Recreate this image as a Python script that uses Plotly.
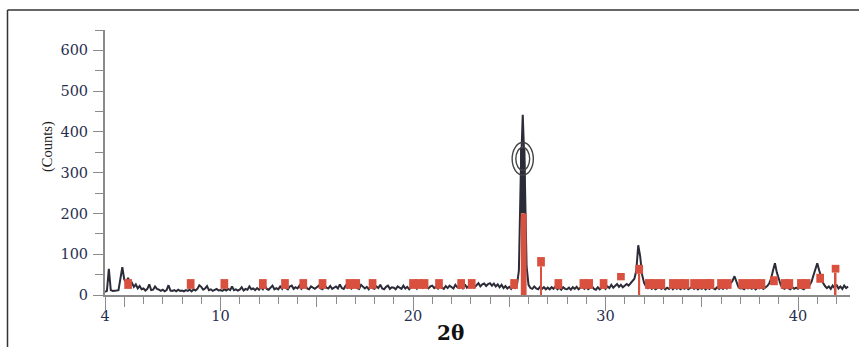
import numpy as np
import plotly.graph_objects as go

# ---- data -------------------------------------------------------------
two_theta_start = 4.0
two_theta_step = 0.1
# measured counts, one row per degree (4.0..4.9, 5.0..5.9, ...)
counts_rows = [
    [8, 10, 64, 12, 10, 10, 11, 12, 42, 68],        # 4
    [38, 30, 42, 26, 30, 20, 26, 16, 22, 14],       # 5
    [16, 11, 15, 26, 12, 13, 21, 15, 13, 10],       # 6
    [13, 9, 12, 24, 11, 10, 12, 9, 13, 10],         # 7
    [11, 9, 12, 10, 13, 9, 14, 11, 15, 24],         # 8
    [20, 13, 16, 22, 12, 14, 10, 13, 15, 11],       # 9
    [12, 10, 14, 11, 15, 12, 21, 12, 14, 11],       # 10
    [13, 19, 11, 15, 13, 21, 14, 16, 12, 17],       # 11
    [13, 19, 14, 23, 15, 13, 19, 23, 14, 17],       # 12
    [14, 21, 15, 25, 17, 14, 21, 23, 15, 19],       # 13
    [16, 23, 15, 20, 25, 16, 14, 21, 17, 15],       # 14
    [19, 23, 16, 14, 25, 18, 16, 22, 15, 19],       # 15
    [21, 16, 26, 17, 15, 23, 18, 25, 16, 21],       # 16
    [23, 17, 15, 25, 19, 16, 20, 14, 22, 17],       # 17
    [15, 21, 17, 25, 16, 14, 20, 23, 15, 19],       # 18
    [18, 14, 21, 17, 15, 23, 16, 20, 14, 19],       # 19
    [20, 23, 16, 25, 19, 17, 27, 20, 16, 21],       # 20
    [23, 17, 21, 16, 25, 18, 15, 22, 17, 23],       # 21
    [20, 16, 25, 19, 17, 23, 15, 26, 18, 22],       # 22
    [23, 27, 19, 25, 29, 21, 26, 28, 22, 27],       # 23
    [29, 23, 28, 21, 26, 19, 25, 17, 22, 16],       # 24
    [20, 15, 21, 17, 24, 60, 300, 442, 310, 70],    # 25
    [25, 17, 15, 21, 16, 14, 20, 15, 19, 14],       # 26
    [18, 14, 19, 15, 21, 14, 18, 13, 19, 15],       # 27
    [14, 18, 13, 19, 15, 20, 14, 18, 21, 15],       # 28
    [19, 14, 18, 21, 15, 13, 19, 14, 18, 20],       # 29
    [15, 21, 17, 25, 18, 23, 27, 20, 25, 19],       # 30
    [23, 27, 23, 29, 33, 40, 60, 122, 95, 50],      # 31
    [30, 21, 17, 21, 15, 19, 14, 18, 20, 15],       # 32
    [19, 14, 18, 15, 20, 14, 19, 15, 18, 14],       # 33
    [18, 15, 19, 14, 18, 20, 15, 19, 14, 18],       # 34
    [15, 19, 14, 18, 15, 20, 16, 14, 19, 15],       # 35
    [19, 15, 20, 16, 22, 28, 35, 46, 32, 20],       # 36
    [16, 17, 14, 19, 16, 18, 15, 19, 14, 18],       # 37
    [16, 19, 15, 18, 22, 28, 40, 60, 78, 55],       # 38
    [40, 25, 17, 15, 19, 16, 14, 19, 15, 18],       # 39
    [15, 19, 16, 14, 19, 20, 24, 32, 48, 66],       # 40
    [78, 60, 45, 30, 22, 17, 21, 15, 23, 17],       # 41
    [25, 16, 21, 15, 23, 17, 21],                   # 42
]
# dense core of the main reflection (overlapping scans)
core_pos = [25.7]
core_low = [200]
core_high = [362]

# reference-pattern markers (red): position, lower and upper count
ref_pos = [5.2, 8.45, 10.2, 12.2, 13.35, 14.3, 15.3, 16.7, 17.05, 17.9,
           20.0, 20.3, 20.6, 21.35, 22.5, 23.05, 25.25, 26.65, 27.55, 28.85,
           29.15, 29.9, 30.8, 31.75, 32.25, 32.55, 32.9, 33.5, 33.85, 34.15,
           34.6, 34.95, 35.3, 35.45, 36.0, 36.35, 37.1, 37.45, 37.8, 38.1,
           38.75, 39.3, 39.55, 40.15, 40.45, 41.15, 41.95]
ref_low = [15, 15, 15, 15, 15, 15, 15, 15, 15, 15,
           15, 15, 15, 15, 15, 15, 15, 70, 15, 15,
           15, 15, 36, 52, 15, 15, 15, 15, 15, 15,
           15, 15, 15, 15, 15, 15, 15, 15, 15, 15,
           24, 15, 15, 15, 15, 30, 55]
ref_high = [39, 39, 39, 39, 39, 39, 39, 39, 39, 39,
            39, 39, 39, 39, 39, 39, 39, 93, 39, 39,
            39, 39, 54, 74, 39, 39, 39, 39, 39, 39,
            39, 39, 39, 39, 39, 39, 39, 39, 39, 39,
            46, 39, 39, 39, 39, 52, 74]
# reference sticks (red lines down to the baseline)
stick_pos = [25.75, 26.65, 31.75, 41.95]
stick_high = [200, 70, 52, 55]

# highlighted peak (ellipse) centre and half sizes
mark_center = [25.7, 334]
mark_half_outer = [0.55, 40]
mark_half_inner = [0.36, 28]

x_ticks = [4, 10, 20, 30, 40]
half_ticks = [5, 15, 25, 35]
y_ticks = [0, 100, 200, 300, 400, 500, 600]

# ---- build ------------------------------------------------------------
counts = [v for row in counts_rows for v in row]
two_theta = two_theta_start + two_theta_step * np.arange(len(counts))

RED = "#d9503f"
DARK = "#2b2c38"
GREY = "#8a8a8a"
TICKFONT = dict(family="DejaVu Serif", size=14.5, color="#283050")

fig = go.Figure()

fig.add_trace(go.Scatter(x=two_theta, y=counts, mode="lines",
                         line=dict(color=DARK, width=2),
                         hoverinfo="skip", showlegend=False))
fig.add_trace(go.Bar(x=core_pos, y=[h - l for h, l in zip(core_high, core_low)],
                     base=core_low, width=0.28,
                     marker=dict(color=DARK, line=dict(width=0)),
                     showlegend=False))

fig.add_trace(go.Bar(x=ref_pos, y=[h - l for h, l in zip(ref_high, ref_low)],
                     base=ref_low, width=0.4,
                     marker=dict(color=RED, line=dict(width=0)),
                     xaxis="x2", yaxis="y2", showlegend=False))
fig.add_trace(go.Bar(x=stick_pos, y=stick_high, base=0, width=[0.3, 0.1, 0.1, 0.1],
                     marker=dict(color=RED, line=dict(width=0)),
                     xaxis="x3", yaxis="y3", showlegend=False))

for hw, hh in (mark_half_outer, mark_half_inner):
    fig.add_shape(type="circle", xref="x", yref="y",
                  x0=mark_center[0] - hw, x1=mark_center[0] + hw,
                  y0=mark_center[1] - hh, y1=mark_center[1] + hh,
                  line=dict(color="#444", width=1.4))

L, R, T, B = 105, 9, 30, 52
W, H = 859, 347
pw, ph = W - L - R, H - T - B


def px_x(p):
    return (p - L) / pw


def px_y(p):
    return (H - B - p) / ph


XR = [4, 42.7]
YR = [0, 650]
fig.update_layout(
    width=W, height=H,
    margin=dict(l=L, r=R, t=T, b=B, pad=0),
    paper_bgcolor="white", plot_bgcolor="white",
    barmode="overlay",
    xaxis=dict(range=XR, tickvals=x_ticks, ticktext=[str(v) for v in x_ticks],
               ticks="outside", ticklen=7, tickwidth=1.2, tickcolor=GREY,
               showline=True, linecolor=GREY, linewidth=2, showgrid=False, zeroline=False,
               tickfont=TICKFONT,
               minor=dict(dtick=1, tick0=4, ticks="outside", ticklen=7,
                          tickcolor=GREY, tickwidth=1.2)),
    xaxis2=dict(range=XR, overlaying="x", tickvals=x_ticks,
                ticks="outside", ticklen=15, tickwidth=1.2, tickcolor=GREY,
                showticklabels=False, showline=False, showgrid=False, zeroline=False),
    xaxis3=dict(range=XR, overlaying="x", tickvals=half_ticks,
                ticks="outside", ticklen=11, tickwidth=1.2, tickcolor=GREY,
                showticklabels=False, showline=False, showgrid=False, zeroline=False),
    yaxis=dict(range=YR, tickvals=y_ticks, ticks="outside", ticklen=10,
               tickwidth=1.2, tickcolor=GREY, showline=True, linecolor=GREY,
               linewidth=2, showgrid=False, zeroline=False, tickfont=TICKFONT,
               ticklabelstandoff=2,
               minor=dict(dtick=50, ticks="outside", ticklen=8,
                          tickcolor=GREY, tickwidth=1.2)),
    yaxis2=dict(range=YR, overlaying="y", visible=False),
    yaxis3=dict(range=YR, overlaying="y", visible=False),
)

fig.add_annotation(text="(Counts)", xref="paper", yref="paper",
                   x=px_x(47), y=px_y(147), xanchor="center", yanchor="middle",
                   textangle=-90, showarrow=False,
                   font=dict(family="Liberation Serif", size=14.5, color="#222"))
fig.add_annotation(text="<b>2θ</b>", xref="paper", yref="paper",
                   x=px_x(450), y=px_y(333), xanchor="center", yanchor="middle",
                   showarrow=False,
                   font=dict(family="DejaVu Serif", size=20, color="#111"))

# outer frame (top and left edges visible in the reference)
fig.add_shape(type="line", xref="paper", yref="paper",
              x0=px_x(7.5), x1=px_x(7.5), y0=px_y(10), y1=px_y(H + 5),
              line=dict(color="#333", width=1.5))
fig.add_shape(type="line", xref="paper", yref="paper",
              x0=px_x(7.5), x1=px_x(W + 5), y0=px_y(10), y1=px_y(10),
              line=dict(color="#333", width=1.5))

fig.write_html("out.html")
